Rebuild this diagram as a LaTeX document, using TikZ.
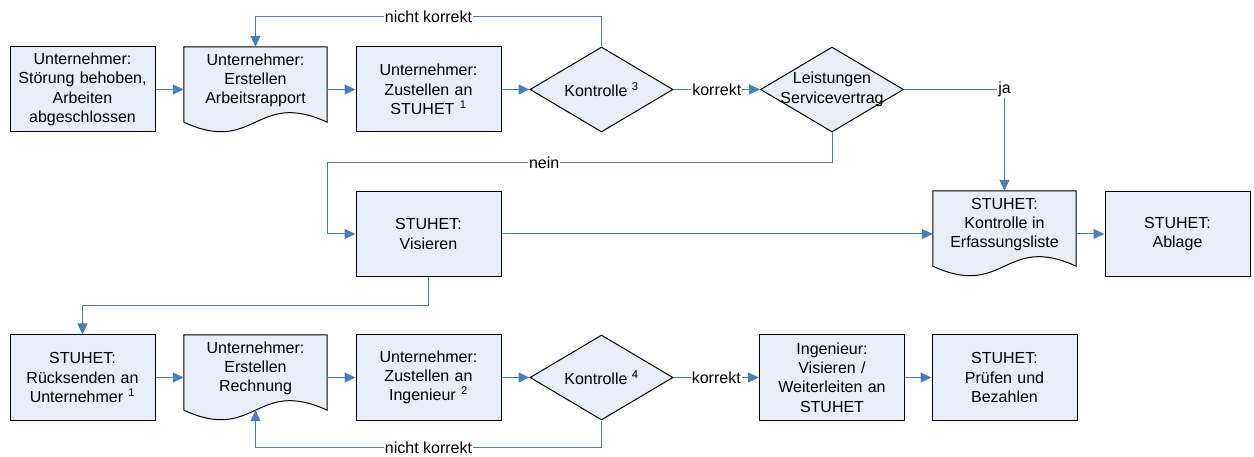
\documentclass[tikz,border=0pt]{standalone}
\usepackage{fontspec}
\setmainfont{Liberation Sans}
\usetikzlibrary{shapes.geometric,arrows.meta,calc,backgrounds}
\definecolor{boxfill}{RGB}{232,238,247}
\definecolor{lineblue}{RGB}{74,126,187}
\newcommand\fs{\fontsize{16}{19.3}\selectfont}
\newcommand\docshape[1]{%
  \begin{scope}[on background layer]
  \filldraw[fill=boxfill,draw=black,line width=1pt,line join=miter]
    (#1.south west) -- (#1.north west) -- (#1.north east) -- (#1.south east)
    .. controls ($(#1.south)+(0,33)$) and ($(#1.south)+(0,-33)$) .. (#1.south west) -- cycle;
  \end{scope}}
\begin{document}
\begin{tikzpicture}[x=1pt,y=1pt,
  box/.style={draw=black,fill=boxfill,line width=1pt,minimum width=145pt,minimum height=85pt,
    align=center,font=\fs,inner sep=0pt,text width=140pt},
  doc/.style={draw=none,fill=none,minimum width=143pt,minimum height=75pt,inner sep=0pt},
  dec/.style={diamond,draw=black,fill=boxfill,line width=1pt,minimum width=143pt,
    minimum height=85pt,inner sep=0pt},
  dlab/.style={font=\fs,align=center},
  conn/.style={draw=lineblue,line width=1pt,-{Triangle[length=11pt,width=10pt]},
    color=lineblue},
  lab/.style={fill=white,inner sep=1pt,font=\fs,text=black}]
\useasboundingbox (0,0) rectangle (1254,-457);
% row 1
\node[box] (A) at (82.5,-89.5) {Unternehmer:\\Störung behoben,\\Arbeiten\\abgeschlossen};
\node[doc,label={[dlab,yshift=4pt]center:Unternehmer:\\Erstellen\\Arbeitsrapport}] (B) at (255.5,-84.5) {};
\node[box] (C) at (428.5,-89.5) {Unternehmer:\\Zustellen an\\STUHET \textsuperscript{1}};
\node[dec,label={[dlab]center:Kontrolle \textsuperscript{3}}] (D) at (601.5,-89.5) {};
\node[dec,label={[dlab]center:Leistungen\\Servicevertrag}] (E) at (832,-89.5) {};
% row 2
\node[box] (H) at (428.5,-234) {STUHET:\\Visieren};
\node[doc,label={[dlab,yshift=4pt]center:STUHET:\\Kontrolle in\\Erfassungsliste}] (F) at (1004.5,-228.5) {};
\node[box] (G) at (1177.5,-234) {STUHET:\\Ablage};
% row 3
\node[box] (I) at (82.5,-377.5) {STUHET:\\Rücksenden an\\Unternehmer \textsuperscript{1}};
\node[doc,label={[dlab,yshift=4pt]center:Unternehmer:\\Erstellen\\Rechnung}] (J) at (255.5,-372.5) {};
\node[box] (K) at (428.5,-377.5) {Unternehmer:\\Zustellen an\\Ingenieur \textsuperscript{2}};
\node[dec,label={[dlab]center:Kontrolle \textsuperscript{4}}] (L) at (601.5,-377.5) {};
\node[box] (M) at (832,-377.5) {Ingenieur:\\Visieren /\\Weiterleiten an\\STUHET};
\node[box] (N) at (1004.5,-377.5) {STUHET:\\Prüfen und\\Bezahlen};
\docshape{B}
\docshape{F}
\docshape{J}
% connectors row 1
\draw[conn] (A.east) -- (A.east -| B.west);
\draw[conn] (B.east |- C.west) -- (C.west);
\draw[conn] (C.east) -- (D.west);
\draw[conn] (D.east) -- node[lab]{korrekt} (E.west);
\draw[conn] (D.north) -- ++(0,30) -| node[lab,pos=0.25]{nicht korrekt} (B.north);
\draw[conn] (E.east) -| node[lab,pos=0.5]{ja} (F.north);
\draw[conn] (E.south) -- ++(0,-30) -- node[lab,pos=0.57]{nein} ++(-505,0) |- (H.west);
% row 2
\draw[conn] (H.east) -- (H.east -| F.west);
\draw[conn] (G.west -| F.east) -- (G.west);
\draw[conn] (H.south) -- ++(0,-29) -| (I.north);
% row 3
\draw[conn] (I.east) -- (I.east -| J.west);
\draw[conn] (J.east |- K.west) -- (K.west);
\draw[conn] (K.east) -- (L.west);
\draw[conn] (L.east) -- node[lab]{korrekt} (M.west);
\draw[conn] (M.east) -- (N.west);
\draw[conn] (L.south) -- ++(0,-27) -| node[lab,pos=0.25]{nicht korrekt} (J.south);
\end{tikzpicture}
\end{document}
